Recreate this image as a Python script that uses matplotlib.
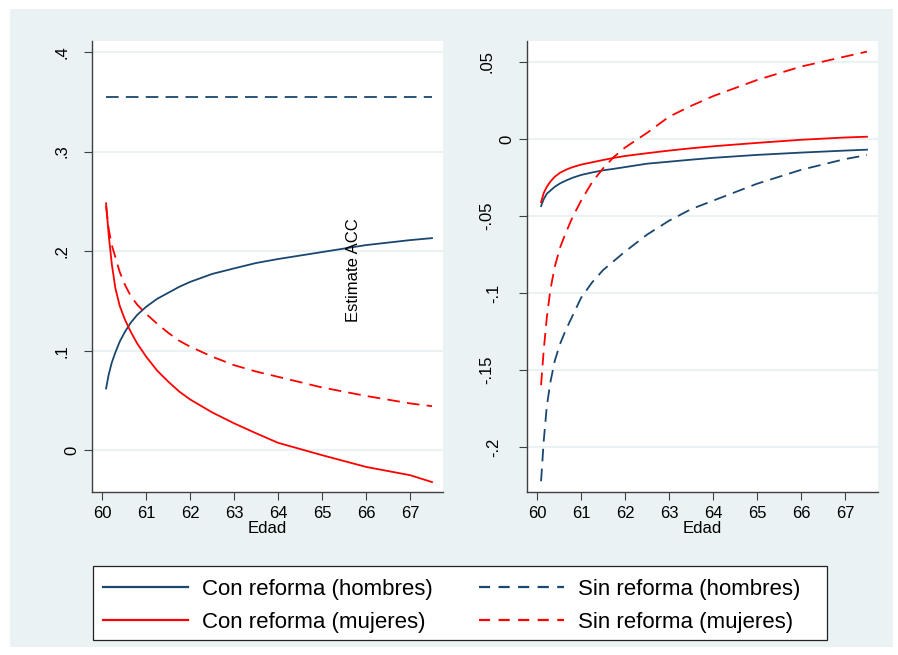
import numpy as np
import matplotlib.pyplot as plt
import matplotlib.transforms as mtransforms
from matplotlib.patches import Rectangle
from matplotlib.lines import Line2D

plt.rcParams['font.family'] = ['Liberation Sans', 'DejaVu Sans']

# edad (eje x comun)
edad = [60.09, 60.15, 60.22, 60.3, 60.4, 60.52, 60.65, 60.8, 61.0, 61.25, 61.5, 61.75,
        62.0, 62.5, 63.0, 63.5, 64.0, 65.0, 66.0, 67.0, 67.5]

# panel izquierdo
con_h = [0.062, 0.076, 0.088, 0.098, 0.109, 0.119, 0.128, 0.136, 0.144, 0.152, 0.158, 0.164,
         0.169, 0.177, 0.1826, 0.188, 0.192, 0.199, 0.206, 0.211, 0.213]
sin_h = [0.355] * len(edad)
con_m = [0.248, 0.216, 0.187, 0.163, 0.145, 0.131, 0.119, 0.107, 0.094, 0.080, 0.069, 0.059,
         0.051, 0.038, 0.027, 0.017, 0.0074, -0.005, -0.0168, -0.0251, -0.032]
sin_m = [0.245, 0.222, 0.206, 0.194, 0.179, 0.166, 0.155, 0.146, 0.137, 0.127, 0.118, 0.110,
         0.104, 0.094, 0.0854, 0.079, 0.0737, 0.063, 0.0545, 0.047, 0.0442]

# panel derecho
con_h2 = [-0.0435, -0.039, -0.0355, -0.0335, -0.031, -0.0288, -0.027, -0.0252, -0.0233,
          -0.0217, -0.0203, -0.0193, -0.0182, -0.016, -0.0147, -0.0134, -0.0122, -0.0103,
          -0.0088, -0.0075, -0.0069]
sin_h2 = [-0.222, -0.196, -0.1735, -0.158, -0.144, -0.133, -0.124, -0.115, -0.103, -0.093,
          -0.085, -0.079, -0.073, -0.062, -0.053, -0.0455, -0.040, -0.029, -0.020, -0.013,
          -0.0104]
con_m2 = [-0.041, -0.035, -0.031, -0.0277, -0.0245, -0.0219, -0.020, -0.0183, -0.0166,
          -0.0151, -0.0136, -0.0122, -0.011, -0.0092, -0.0075, -0.006, -0.0047, -0.0025,
          -0.0005, 0.001, 0.0015]
sin_m2 = [-0.1597, -0.137, -0.116, -0.098, -0.083, -0.0705, -0.061, -0.051, -0.040, -0.028,
          -0.019, -0.0115, -0.0055, 0.004, 0.0145, 0.0215, 0.0278, 0.0383, 0.047, 0.0535,
          0.0567]

yt_izq = [0, 0.1, 0.2, 0.3, 0.4]
yl_izq = ['0', '.1', '.2', '.3', '.4']
yt_der = [-0.2, -0.15, -0.1, -0.05, 0, 0.05]
yl_der = ['-.2', '-.15', '-.1', '-.05', '0', '.05']

navy = '#1a476f'
rojo = '#ff0000'
fondo = '#eaf2f3'
W, H = 898, 655

fig = plt.figure(figsize=(W / 100, H / 100), dpi=100)
fig.patches.append(Rectangle((10 / W, 8 / H), 883 / W, 638 / H, transform=fig.transFigure,
                             facecolor=fondo, edgecolor='none', zorder=-10))

ax1 = fig.add_axes([92 / W, (H - 492) / H, 351 / W, 451 / H])
ax2 = fig.add_axes([527 / W, (H - 492) / H, 351 / W, 451 / H])

estilo = dict(linewidth=1.3)
dash = (0, (7, 4))
for ax, a, b, c, d in [(ax1, con_h, sin_h, con_m, sin_m), (ax2, con_h2, sin_h2, con_m2, sin_m2)]:
    ax.plot(edad, a, color=navy, **estilo)
    ax.plot(edad, b, color=navy, linestyle=dash, **estilo)
    ax.plot(edad, c, color=rojo, **estilo)
    ax.plot(edad, d, color=rojo, linestyle=dash, **estilo)
    ax.set_xlim(59.77, 67.75)
    ax.set_xticks(range(60, 68))
    ax.set_xlabel('Edad', fontsize=12, labelpad=0)
    for s in ['top', 'right']:
        ax.spines[s].set_visible(False)
    for s in ['left', 'bottom']:
        ax.spines[s].set_color('#404040')
        ax.spines[s].set_linewidth(1.0)
    ax.tick_params(axis='both', labelsize=12, length=6, color='#404040', pad=4)
    ax.grid(axis='y', color=fondo, linewidth=1.5)
    ax.set_axisbelow(True)

# etiquetas del eje y giradas (Stata las separa segun su longitud)
desp = {'0': -20, '.1': -30, '.2': -30, '.3': -30, '.4': -30,
        '.05': -40, '-.05': -40, '-.15': -40, '-.1': -33, '-.2': -33}


def etiquetas_y(ax, ticks, labels):
    ax.set_yticks(ticks)
    ax.set_yticklabels([])
    base = mtransforms.blended_transform_factory(ax.transAxes, ax.transData)
    for v, lab in zip(ticks, labels):
        tr = base + mtransforms.ScaledTranslation(desp[lab] / 100, 0, fig.dpi_scale_trans)
        ax.text(0, v, lab, transform=tr, rotation=90, ha='center', va='center',
                fontsize=12, clip_on=False)


ax1.set_ylim(-0.042, 0.411)
etiquetas_y(ax1, yt_izq, yl_izq)
ax1.text(65.72, 0.181, 'Estimate ACC', rotation=90, ha='center', va='center', fontsize=12)

ax2.set_ylim(-0.229, 0.0636)
etiquetas_y(ax2, yt_der, yl_der)

# leyenda
fig.patches.append(Rectangle((93 / W, (H - 640) / H), 734 / W, 74 / H, transform=fig.transFigure,
                             facecolor='white', edgecolor='#222222', linewidth=0.9, zorder=1))
handles = [Line2D([], [], color=navy, lw=1.6),
           Line2D([], [], color=rojo, lw=1.6),
           Line2D([], [], color=navy, lw=1.6, linestyle=(0, (5, 3.8))),
           Line2D([], [], color=rojo, lw=1.6, linestyle=(0, (5, 3.8)))]
labels = ['Con reforma (hombres)', 'Con reforma (mujeres)',
          'Sin reforma (hombres)', 'Sin reforma (mujeres)']
leg = fig.legend(handles, labels, loc='center left', ncol=2,
                 bbox_to_anchor=(103 / W, (H - 606) / H),
                 fontsize=16, handlelength=3.83, handletextpad=0.63,
                 labelspacing=0.52, columnspacing=2.07, borderpad=0,
                 borderaxespad=0, frameon=False)
leg.set_zorder(2)

fig.savefig('out.png', dpi=100, facecolor='white')
